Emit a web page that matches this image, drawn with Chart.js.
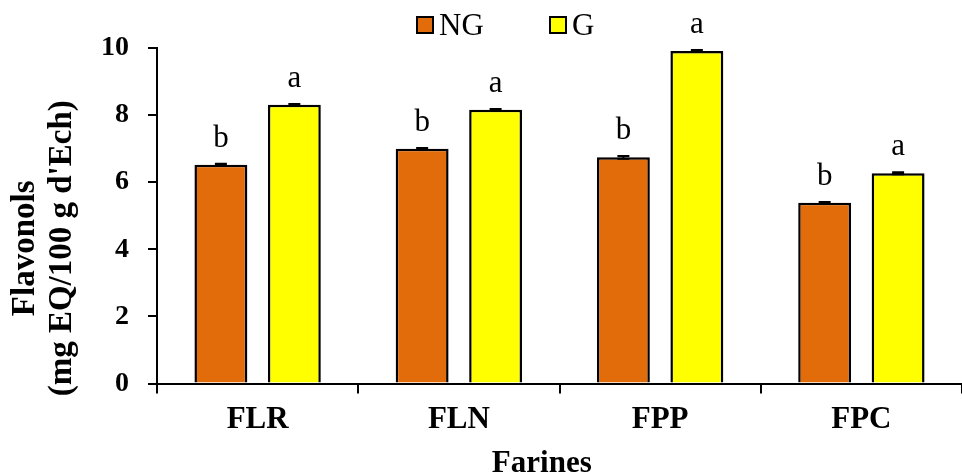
<!DOCTYPE html>
<html>
<head>
<meta charset="utf-8">
<script src="https://cdn.jsdelivr.net/npm/chart.js@4"></script>
<style>
html,body{margin:0;padding:0;background:#fff;}
#wrap{width:962px;height:475px;position:relative;}
</style>
</head>
<body>
<div id="wrap"><canvas id="c" width="962" height="475"></canvas></div>
<script>
const categories = ['FLR', 'FLN', 'FPP', 'FPC'];
const seriesNames = ['NG', 'G'];
const ngValues = [6.52, 7.00, 6.74, 5.39];
const gValues = [8.31, 8.16, 9.91, 6.27];
const ngErrors = [0.03, 0.02, 0.04, 0.02];
const gErrors = [0.02, 0.02, 0.03, 0.03];
const ngLetters = ['b', 'b', 'b', 'b'];
const gLetters = ['a', 'a', 'a', 'a'];
const yTicks = [0, 2, 4, 6, 8, 10];
const xTitle = 'Farines';
const yTitle = ['Flavonols', "(mg EQ/100 g d'Ech)"];

const SERIF = "'Liberation Serif', 'Times New Roman', serif";
const NG_COLOR = '#E36C0A';
const G_COLOR = '#FFFF00';

const errorLetters = {
  id: 'errorLetters',
  afterDatasetsDraw(chart) {
    const ctx = chart.ctx;
    const y = chart.scales.y;
    chart.data.datasets.forEach((ds, di) => {
      const meta = chart.getDatasetMeta(di);
      meta.data.forEach((bar, i) => {
        const v = ds.data[i];
        const e = ds.errors[i];
        const yTop = y.getPixelForValue(v + e);
        const yBot = y.getPixelForValue(v - e);
        ctx.save();
        ctx.strokeStyle = '#000';
        ctx.lineWidth = 2;
        ctx.beginPath();
        ctx.moveTo(bar.x, yTop); ctx.lineTo(bar.x, yBot);
        ctx.moveTo(bar.x - 6, yTop); ctx.lineTo(bar.x + 6, yTop);
        ctx.moveTo(bar.x - 6, yBot); ctx.lineTo(bar.x + 6, yBot);
        ctx.stroke();
        ctx.fillStyle = '#000';
        ctx.font = '31px ' + SERIF;
        ctx.textAlign = 'center';
        ctx.textBaseline = 'alphabetic';
        ctx.fillText(ds.letters[i], bar.x, yTop - 17);
        ctx.restore();
      });
    });
  }
};

const titlesLegend = {
  id: 'titlesLegend',
  afterDraw(chart) {
    const ctx = chart.ctx;
    const area = chart.chartArea;
    ctx.save();
    ctx.fillStyle = '#000';
    ctx.font = 'bold 33px ' + SERIF;
    ctx.textAlign = 'center';
    ctx.textBaseline = 'middle';
    const cy = area.top + (area.bottom - area.top) * 0.597;
    ctx.translate(25, cy);
    ctx.rotate(-Math.PI / 2);
    ctx.fillText(yTitle[0], 0, 0);
    ctx.fillText(yTitle[1], 0, 37);
    ctx.restore();

    ctx.save();
    ctx.fillStyle = '#000';
    ctx.font = 'bold 31px ' + SERIF;
    ctx.textAlign = 'center';
    ctx.textBaseline = 'alphabetic';
    ctx.fillText(xTitle, area.left + (area.right - area.left) * 0.478, 472);
    ctx.restore();

    ctx.save();
    const items = chart.data.datasets;
    const positions = [417, 550];
    ctx.font = '31px ' + SERIF;
    ctx.textBaseline = 'alphabetic';
    ctx.textAlign = 'left';
    items.forEach((ds, i) => {
      const x = positions[i];
      ctx.fillStyle = ds.backgroundColor;
      ctx.fillRect(x, 17, 16, 16);
      ctx.strokeStyle = '#000';
      ctx.lineWidth = 2;
      ctx.strokeRect(x, 17, 16, 16);
      ctx.fillStyle = '#000';
      ctx.fillText(ds.label, x + 22, 35);
    });
    ctx.restore();
  }
};

new Chart(document.getElementById('c'), {
  type: 'bar',
  data: {
    labels: categories,
    datasets: [
      { label: seriesNames[0], data: ngValues, errors: ngErrors, letters: ngLetters,
        backgroundColor: NG_COLOR, borderColor: '#000', borderWidth: 2.5,
        categoryPercentage: 0.73, barPercentage: 0.72 },
      { label: seriesNames[1], data: gValues, errors: gErrors, letters: gLetters,
        backgroundColor: G_COLOR, borderColor: '#000', borderWidth: 2.5,
        categoryPercentage: 0.73, barPercentage: 0.72 }
    ]
  },
  options: {
    responsive: false,
    animation: false,
    devicePixelRatio: 1,
    layout: { padding: { top: 48, right: -4, bottom: 0, left: 0 } },
    plugins: { legend: { display: false }, tooltip: { enabled: false } },
    scales: {
      x: {
        afterFit(s) { s.height = 91.5; },
        grid: { drawOnChartArea: false, drawTicks: true, tickLength: 10, color: '#000', lineWidth: 2, offset: true },
        border: { color: '#000', width: 2 },
        ticks: { color: '#000', padding: 8, font: { family: SERIF, size: 31, weight: 'bold' } }
      },
      y: {
        min: 0, max: 10,
        afterFit(s) { s.width = 157; },
        afterBuildTicks(s) { s.ticks = yTicks.map(v => ({ value: v })); },
        grid: { drawOnChartArea: false, drawTicks: true, tickLength: 9, color: '#000', lineWidth: 2 },
        border: { color: '#000', width: 2 },
        ticks: { color: '#000', padding: 19, font: { family: SERIF, size: 28, weight: 'bold' } }
      }
    }
  },
  plugins: [errorLetters, titlesLegend]
});
</script>
</body>
</html>
